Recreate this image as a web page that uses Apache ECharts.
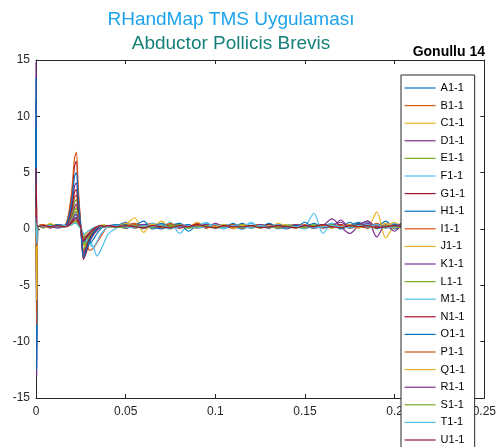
<!DOCTYPE html>
<html>
<head>
<meta charset="utf-8">
<script src="https://cdn.jsdelivr.net/npm/echarts@6/dist/echarts.min.js"></script>
<style>html,body{margin:0;padding:0;background:#fff;}#c{width:499px;height:447px;}</style>
</head>
<body>
<div id="c"></div>
<script>
// ---- data ----
const titleMain = 'RHandMap TMS Uygulaması';
const titleSub = 'Abductor Pollicis Brevis';
const subjectLabel = 'Gonullu 14';
const xTickLabels = ['0', '0.05', '0.1', '0.15', '0.2', '0.25'];
const yTickLabels = ['-15', '-10', '-5', '0', '5', '10', '15'];
const names = ['A1-1','B1-1','C1-1','D1-1','E1-1','F1-1','G1-1','H1-1','I1-1','J1-1','K1-1','L1-1','M1-1','N1-1','O1-1','P1-1','Q1-1','R1-1','S1-1','T1-1','U1-1'];
const T = [0, 0.0004, 0.001, 0.004, 0.008, 0.012, 0.016, 0.018, 0.02, 0.0215, 0.0225, 0.0235, 0.025, 0.0265, 0.028, 0.03, 0.032, 0.034, 0.036, 0.038, 0.04,
  0.045, 0.05, 0.055, 0.06, 0.065, 0.07, 0.075, 0.08, 0.085, 0.09, 0.095, 0.1, 0.105, 0.11, 0.115, 0.12, 0.125, 0.13, 0.135, 0.14, 0.145, 0.15, 0.155, 0.16, 0.165, 0.17, 0.175, 0.18, 0.185, 0.19, 0.195, 0.2, 0.205, 0.21];

const A1 = [11.5, -10.5, 0.3, 0.1, 0.4, 0.2, 0.3, 0.4, 0.8, 1.4, 1.5, 0.9, 0.0, -1.2, -0.9, -0.5, -0.2, 0.1, 0.3, 0.2, 0.3,
  0.3, 0.6, 0.1, 0.4, 0.2, 0.0, 0.3, 0.5, 0.1, 0.2, 0.4, 0.1, 0.3, 0.2, 0.5, 0.1, 0.2, 0.4, 0.2, 0.0, 0.3, 0.2, 0.5, 0.1, 0.3, 0.2, 0.6, 0.1, 0.4, 0.2, 0.7, 0.0, 0.3, 0.2];
const B1 = [1.5, -1.0, 0.2, 0.4, 0.1, 0.3, 0.3, 0.6, 1.5, 2.8, 3.0, 1.7, 0.2, -0.6, -1.3, -1.9, -1.7, -1.2, -0.7, -0.2, 0.2,
  0.2, 0.4, 0.1, 0.3, 0.5, 0.2, 0.1, 0.3, 0.2, 0.4, 0.1, 0.3, 0.2, 0.2, 0.4, 0.1, 0.3, 0.2, 0.1, 0.3, 0.4, 0.2, 0.1, 0.3, 0.2, 0.4, 0.1, 0.3, 0.2, 0.5, 0.1, 0.3, 0.2, 0.2];
const C1 = [0.8, -3.0, 0.3, 0.2, 0.5, 0.1, 0.3, 0.5, 1.0, 1.8, 2.0, 1.1, 0.1, -1.5, -1.1, -0.6, -0.3, 0.0, 0.3, 0.4, 0.2,
  0.3, 0.4, 1.0, -0.3, 0.5, 0.2, 0.1, 0.3, 0.2, 0.6, 0.1, 0.2, 0.3, 0.1, 0.4, 0.2, 0.3, 0.1, 0.2, 0.4, 0.2, 0.1, 0.3, 0.2, 0.4, 0.1, 0.3, 0.5, 0.2, 1.5, -0.8, 0.3, 0.4, 0.2];
const D1 = [14.8, -13.1, 0.2, 0.3, 0.2, 0.4, 0.3, 0.8, 2.0, 3.8, 4.1, 2.3, 0.0, -2.6, -2.0, -1.0, -0.5, -0.1, 0.2, 0.3, 0.2,
  0.2, 0.1, 0.3, 0.4, 0.2, 0.1, 0.3, 0.2, 0.4, 0.1, 0.2, 0.3, 0.2, 0.4, 0.1, 0.3, 0.2, 0.1, 0.3, 0.2, 0.4, 0.2, 0.1, 0.3, 0.9, 0.2, -0.4, 0.3, 0.7, -0.7, 0.4, 0.2, 0.3, 0.1];
const E1 = [2.0, -1.5, 0.1, 0.3, 0.2, 0.3, 0.2, 0.6, 1.3, 2.4, 2.6, 1.4, 0.1, -1.8, -1.3, -0.7, -0.3, 0.0, 0.2, 0.3, 0.2,
  0.2, 0.3, 0.1, 0.2, 0.4, 0.1, 0.3, 0.2, 0.1, 0.3, 0.2, 0.4, 0.1, 0.2, 0.3, 0.2, 0.1, 0.3, 0.2, 0.4, 0.2, 0.1, 0.3, 0.2, 0.1, 0.3, 0.2, 0.4, 0.1, 0.3, 0.2, 0.1, 0.3, 0.2];
const F1 = [3.0, -2.0, 0.3, 0.2, 0.4, 0.1, 0.2, 0.3, 0.6, 1.1, 1.2, 0.7, 0.1, -0.4, -0.8, -1.1, -1.6, -2.4, -1.9, -1.2, -0.5,
  0.1, 0.3, 0.5, 0.0, 0.4, 0.2, 0.6, -0.4, 0.3, 0.1, 0.5, 0.2, 0.0, 0.4, 0.2, 0.6, 0.1, 0.3, 0.0, 0.4, 0.2, 0.3, 1.4, -0.4, 0.5, 0.1, 0.4, 0.2, 0.6, 0.0, 0.3, 0.5, 0.1, 0.2];
const G1 = [2.5, -3.5, 0.2, 0.3, 0.1, 0.3, 0.3, 1.0, 3.0, 5.6, 6.0, 3.3, 0.2, -2.7, -2.1, -1.1, -0.5, -0.1, 0.2, 0.3, 0.2,
  0.3, 0.2, 0.3, 0.1, 0.2, 0.3, 0.2, 0.4, 0.2, 0.1, 0.3, 0.2, 0.3, 0.1, 0.2, 0.3, 0.4, 0.2, 0.1, 0.3, 0.2, 0.3, 0.1, 0.2, 0.3, 0.2, 0.4, 0.2, 0.1, 0.3, 0.2, 0.3, 0.2, 0.1];
const H1 = [9.0, -9.0, 0.3, 0.2, 0.3, 0.2, 0.3, 0.4, 0.6, 0.9, 1.0, 0.6, 0.0, -0.7, -1.1, -1.3, -0.9, -0.4, 0.0, 0.2, 0.3,
  0.4, 0.1, 0.3, 0.7, 0.0, 0.3, 0.2, 0.5, -0.2, 0.3, 0.1, 0.4, 0.2, 0.5, 0.0, 0.3, 0.2, 0.5, 0.1, 0.3, 0.2, 0.6, 0.1, 0.2, 0.5, 0.0, 0.3, 0.6, 0.1, 0.4, 0.2, 0.3, 0.1, 0.2];
const I1 = [4.0, -4.5, 0.2, 0.4, 0.2, 0.2, 0.3, 1.2, 3.5, 6.3, 6.8, 3.8, 0.3, -2.3, -1.8, -0.9, -0.4, 0.0, 0.2, 0.3, 0.2,
  0.2, 0.3, 0.5, 0.1, 0.3, 0.2, 0.4, 0.1, 0.2, 0.5, 0.1, 0.3, 0.2, 0.4, 0.1, 0.2, 0.3, 0.1, 0.4, 0.2, 0.3, 0.1, 0.2, 0.4, 0.1, 0.3, 0.2, 0.4, 0.1, 0.3, 0.2, 0.4, 0.1, 0.3];
const J1 = [1.0, -2.0, 0.3, 0.1, 0.3, 0.4, 0.2, 0.4, 0.8, 1.5, 1.6, 0.9, 0.1, -1.0, -0.8, -0.4, -0.1, 0.1, 0.3, 0.2, 0.3,
  0.2, 0.5, 0.1, 0.3, 0.2, 0.7, 0.0, 0.3, 0.2, 0.1, 0.4, 0.2, 0.3, 0.0, 0.4, 0.2, 0.3, 0.1, 0.5, 0.2, 0.1, 0.3, 0.2, 0.4, 0.1, 0.3, 0.2, 0.1, 0.4, 0.2, 0.3, 0.6, 0.1, 0.2];
const K1 = [1.5, -1.2, 0.2, 0.3, 0.2, 0.1, 0.3, 0.5, 1.1, 2.0, 2.2, 1.2, 0.0, -2.2, -1.7, -0.9, -0.4, 0.0, 0.2, 0.3, 0.2,
  0.3, 0.1, 0.4, 0.2, 0.3, 0.1, 0.2, 0.4, 0.2, 0.3, 0.1, 0.5, 0.2, 0.1, 0.3, 0.2, 0.4, 0.1, 0.3, 0.2, 0.1, 0.3, 0.2, 0.4, 0.2, 0.8, 0.1, 0.2, 0.5, 0.1, 0.3, 0.2, 0.6, 0.2];
const L1 = [0.8, -1.0, 0.3, 0.2, 0.4, 0.2, 0.3, 0.4, 0.9, 1.7, 1.8, 1.0, 0.1, -1.4, -1.0, -0.5, -0.2, 0.1, 0.2, 0.3, 0.2,
  0.2, 0.3, 0.2, 0.1, 0.3, 0.2, 0.4, 0.2, 0.1, 0.3, 0.2, 0.1, 0.3, 0.2, 0.4, 0.1, 0.2, 0.3, 0.2, 0.1, 0.3, 0.2, 0.4, 0.1, 0.2, 0.3, 0.1, 0.2, 0.3, 0.2, 0.1, 0.3, 0.2, 0.3];
const M1 = [2.0, -2.5, 0.2, 0.3, 0.2, 0.3, 0.2, 0.3, 0.5, 0.8, 0.9, 0.6, 0.1, -0.5, -1.0, -1.4, -1.6, -1.1, -0.5, -0.1, 0.2,
  0.3, 0.2, 0.4, 0.1, 0.5, 0.2, 0.0, 0.4, 0.1, 0.3, 0.6, 0.1, 0.3, 0.2, 0.0, 0.5, 0.2, 0.3, 0.1, 0.4, 0.2, 0.0, 0.3, 0.2, 0.5, 0.1, 0.3, 0.2, 0.4, 0.1, 0.3, 0.2, 0.4, 0.2];
const N1 = [3.0, -4.0, 0.3, 0.2, 0.3, 0.2, 0.3, 0.7, 1.8, 3.3, 3.5, 1.9, 0.1, -2.0, -1.6, -0.8, -0.3, 0.0, 0.2, 0.3, 0.3,
  0.2, 0.3, 0.1, 0.2, 0.3, 0.4, 0.2, 0.1, 0.3, 0.2, 0.4, 0.1, 0.3, 0.2, 0.1, 0.3, 0.2, 0.4, 0.1, 0.2, 0.3, 0.2, 0.1, 0.3, 0.2, 0.4, 0.1, 0.3, 0.2, 0.1, 0.3, 0.2, 0.4, 0.2];
const O1 = [13.4, -12.5, 0.2, 0.3, 0.2, 0.4, 0.3, 0.9, 2.5, 4.7, 5.0, 2.8, 0.1, -2.5, -1.9, -1.0, -0.4, 0.0, 0.2, 0.3, 0.2,
  0.2, 0.4, 0.1, 0.3, 0.2, 0.5, 0.1, 0.2, 0.4, 0.1, 0.3, 0.2, 0.4, 0.2, 0.1, 0.3, 0.2, 0.1, 0.4, 0.2, 0.3, 0.2, 0.1, 0.4, 0.2, 0.3, 0.1, 0.5, 0.2, 0.3, 0.1, 0.4, 0.2, 0.3];
const P1 = [1.8, -8.5, 0.3, 0.2, 0.3, 0.2, 0.3, 0.3, 0.5, 0.7, 0.8, 0.5, 0.1, -0.8, -0.6, -0.3, 0.0, 0.2, 0.3, 0.2, 0.3,
  0.3, 0.2, 0.4, 0.1, 0.3, 0.2, 0.5, 0.1, 0.2, 0.3, 0.1, 0.4, 0.2, 0.3, 0.1, 0.2, 0.4, 0.2, 0.3, 0.1, 0.2, 0.4, 0.1, 0.3, 0.2, 0.3, 0.1, 0.4, 0.2, 0.3, 0.1, 0.2, 0.3, 0.2];
const Q1 = [0.5, -6.3, 0.2, 0.3, 0.2, 0.3, 0.2, 0.3, 0.4, 0.6, 0.6, 0.4, 0.1, -0.6, -0.4, -0.1, 0.1, 0.2, 0.3, 0.2, 0.2,
  0.2, 0.3, 0.1, 0.2, 0.4, 0.2, 0.1, 0.3, 0.2, 0.1, 0.3, 0.2, 0.4, 0.1, 0.3, 0.2, 0.1, 0.3, 0.2, 0.4, 0.1, 0.2, 0.3, 0.1, 0.3, 0.2, 0.4, 0.1, 0.3, 0.2, 0.5, 0.1, 0.3, 0.2];
const R1 = [1.2, -1.5, 0.3, 0.2, 0.3, 0.2, 0.3, 0.4, 0.7, 1.2, 1.3, 0.8, 0.1, -1.1, -0.8, -0.4, -0.1, 0.1, 0.3, 0.2, 0.3,
  0.3, 0.1, 0.2, 0.4, 0.1, 0.3, 0.2, 0.1, 0.3, 0.2, 0.4, 0.1, 0.2, 0.3, 0.2, 0.1, 0.4, 0.2, 0.3, 0.1, 0.2, 0.3, 0.2, 0.1, 0.3, 0.6, 0.1, 0.4, 0.7, 0.2, 0.3, -0.2, 0.4, 0.2];
const S1 = [0.6, -0.8, 0.2, 0.3, 0.2, 0.3, 0.2, 0.3, 0.4, 0.6, 0.7, 0.4, 0.0, -0.9, -0.6, -0.3, 0.0, 0.2, 0.2, 0.3, 0.2,
  0.2, 0.1, 0.3, 0.2, 0.1, 0.3, 0.2, 0.4, 0.1, 0.2, 0.3, 0.1, 0.2, 0.3, 0.1, 0.2, 0.3, 0.2, 0.1, 0.3, 0.2, 0.1, 0.3, 0.2, 0.4, 0.1, 0.2, 0.3, 0.2, 0.1, 0.3, 0.2, 0.1, 0.3];
const T1 = [1.0, -1.3, 0.3, 0.2, 0.3, 0.2, 0.3, 0.3, 0.4, 0.5, 0.5, 0.3, 0.1, -0.5, -0.3, -0.1, 0.1, 0.2, 0.3, 0.2, 0.2,
  0.3, 0.2, 0.1, 0.3, 0.2, 0.4, 0.1, 0.2, 0.3, 0.1, 0.2, 0.4, 0.1, 0.3, 0.2, 0.1, 0.3, 0.2, 0.4, 0.1, 0.2, 0.3, 0.1, 0.2, 0.3, 0.2, 0.1, 0.3, 0.2, 0.4, 0.1, 0.2, 0.3, 0.2];
const U1 = [5.4, 1.8, 0.2, 0.3, 0.2, 0.3, 0.2, 0.3, 0.6, 0.9, 1.0, 0.6, 0.1, -1.0, -0.7, -0.3, 0.0, 0.2, 0.3, 0.2, 0.3,
  0.2, 0.3, 0.2, 0.1, 0.3, 0.2, 0.1, 0.3, 0.2, 0.4, 0.2, 0.1, 0.3, 0.2, 0.2, 0.3, 0.1, 0.2, 0.3, 0.2, 0.1, 0.3, 0.2, 0.4, 0.2, 0.1, 0.3, 0.2, 0.3, 0.1, 0.2, 0.3, 0.2, 0.2];

const seriesValues = [A1, B1, C1, D1, E1, F1, G1, H1, I1, J1, K1, L1, M1, N1, O1, P1, Q1, R1, S1, T1, U1];
const palette = ['#0072BD', '#D95319', '#EDB120', '#7E2F8E', '#77AC30', '#4DBEEE', '#A2142F'];

// ---- chart ----
const FONT = '"Liberation Sans", Arial, Helvetica, sans-serif';
const axisColor = '#262626';
const chart = echarts.init(document.getElementById('c'), null, {renderer: 'canvas'});

const series = seriesValues.map((vals, k) => ({
  name: names[k],
  type: 'line',
  data: T.map((t, i) => [t, vals[i]]),
  symbol: 'none',
  smooth: 0.3,
  color: palette[k % palette.length],
  lineStyle: {width: 1.2},
  animation: false,
  xAxisIndex: 0,
  yAxisIndex: 0
}));

const baseX = {
  type: 'value', min: 0, max: 0.25, interval: 0.05,
  axisLine: {show: true, onZero: false, lineStyle: {color: axisColor, width: 1}},
  axisTick: {show: true, inside: true, length: 4, lineStyle: {color: axisColor}},
  splitLine: {show: false}
};
const baseY = {
  type: 'value', min: -15, max: 15, interval: 5,
  axisLine: {show: true, onZero: false, lineStyle: {color: axisColor, width: 1}},
  axisTick: {show: true, inside: true, length: 4, lineStyle: {color: axisColor}},
  splitLine: {show: false}
};

chart.setOption({
  animation: false,
  backgroundColor: '#fff',
  textStyle: {fontFamily: FONT},
  grid: {left: 36, right: 13, top: 60, bottom: 49},
  xAxis: [
    Object.assign({}, baseX, {position: 'bottom',
      axisLabel: {color: axisColor, fontSize: 12, fontFamily: FONT, margin: 8,
        formatter: (v, i) => xTickLabels[i]}}),
    Object.assign({}, baseX, {position: 'top', axisLabel: {show: false}})
  ],
  yAxis: [
    Object.assign({}, baseY, {position: 'left',
      axisLabel: {color: axisColor, fontSize: 12, fontFamily: FONT, margin: 6,
        formatter: (v, i) => yTickLabels[i]}}),
    Object.assign({}, baseY, {position: 'right', axisLabel: {show: false}})
  ],
  legend: {
    data: names,
    orient: 'vertical',
    left: 401, top: 75, height: 520,
    itemWidth: 31, itemHeight: 14, itemGap: 3.6,
    padding: [6, 9, 6, 3],
    backgroundColor: '#fff',
    borderColor: axisColor, borderWidth: 1,
    itemStyle: {opacity: 0},
    lineStyle: {width: 1.2},
    textStyle: {fontSize: 11, color: '#000', fontFamily: FONT, lineHeight: 14},
    selectedMode: false
  },
  graphic: [
    {type: 'text', x: 231, y: 20, style: {text: titleMain, fill: '#1CA3EC', font: '19px ' + FONT, textAlign: 'center', textVerticalAlign: 'middle'}},
    {type: 'text', x: 231, y: 44, style: {text: titleSub, fill: '#167F78', font: '19px ' + FONT, textAlign: 'center', textVerticalAlign: 'middle'}},
    {type: 'text', x: 485, y: 52, style: {text: subjectLabel, fill: '#000', font: 'bold 14px ' + FONT, textAlign: 'right', textVerticalAlign: 'middle'}}
  ],
  series: series
});
</script>
</body>
</html>
